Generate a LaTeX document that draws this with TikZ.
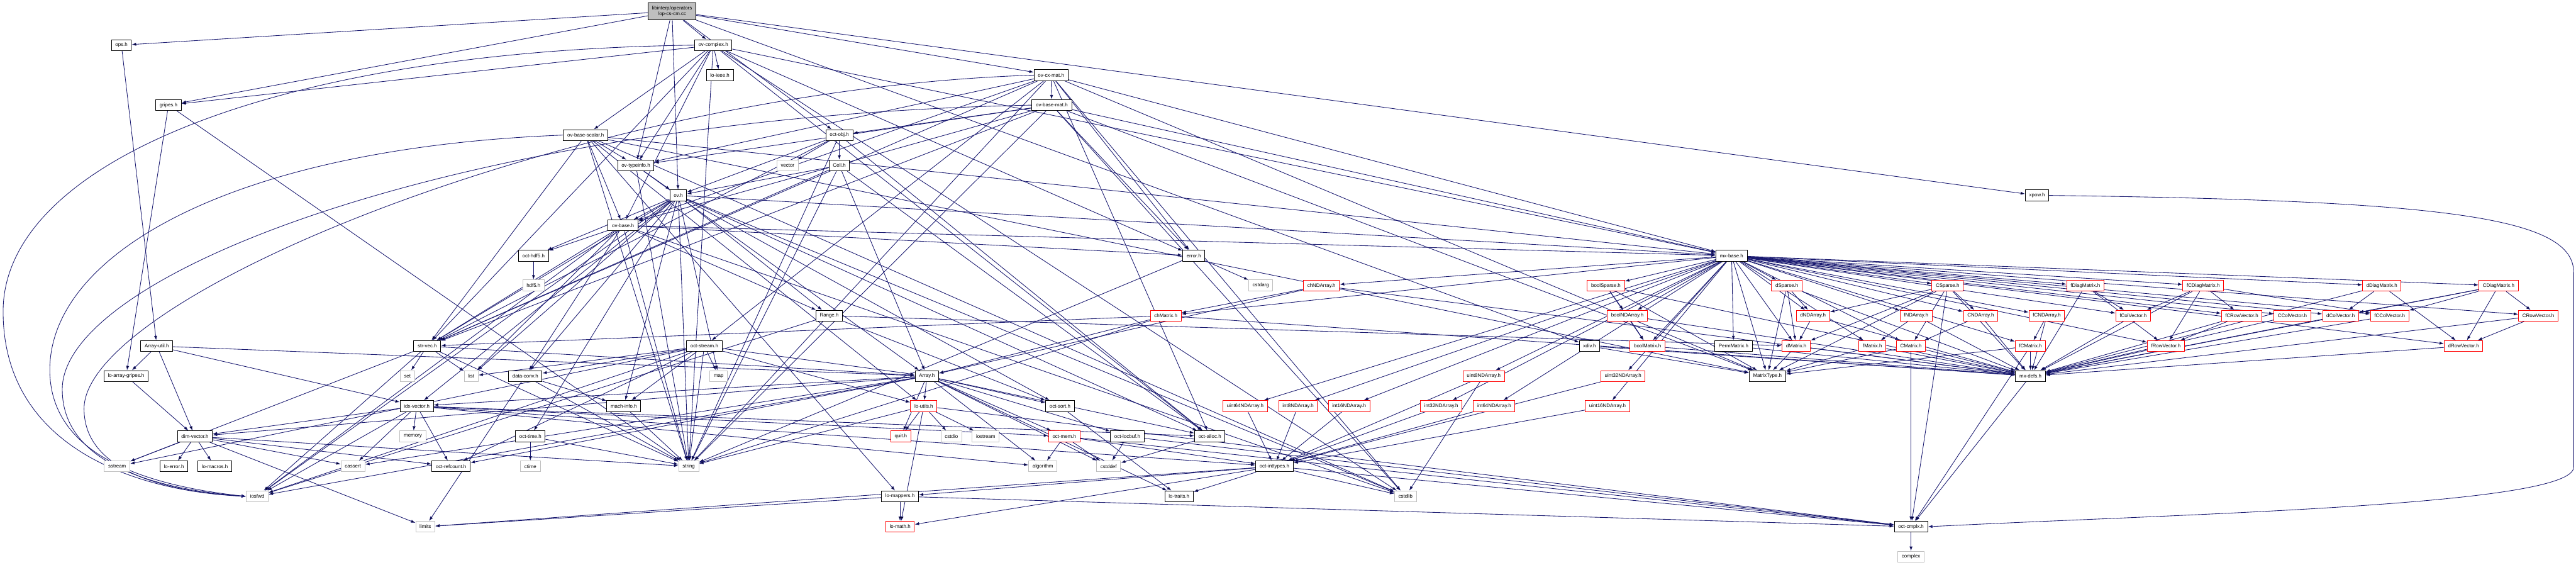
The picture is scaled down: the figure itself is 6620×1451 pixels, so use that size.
\documentclass[tikz,border=0pt]{standalone}
\usepackage{fontspec}
\setmainfont{Liberation Sans}
\usetikzlibrary{arrows.meta,backgrounds}
\definecolor{edgeblue}{HTML}{191970}
\definecolor{sysgray}{HTML}{BFBFBF}
\newcommand{\hdrfont}{\fontsize{7.3}{8.6}\selectfont}
\tikzset{
  hdr/.style={draw=black, line width=0.9pt, fill=white, font=\hdrfont,
    inner xsep=0.2cm, inner ysep=0pt, minimum height=0.56cm},
  syshdr/.style={hdr, draw=sysgray},
  trunc/.style={hdr, draw=red},
  rootfile/.style={hdr, fill=sysgray, align=center, minimum height=0.9cm},
  inc/.style={draw=edgeblue, line width=0.8pt, -{Latex[length=6.5pt,width=4.6pt]}}
}
\begin{document}
\begin{tikzpicture}[x=0.02cm,y=-0.02cm]
  \useasboundingbox (0,0) rectangle (6620,1451);
  %
  \node[rootfile] (root) at (1727,29) {libinterp/operators\\/op-cs-cm.cc};
  \node[hdr] (opsh) at (312,116) {ops.h};
  \node[hdr] (ovcomplex) at (1833,116) {ov-complex.h};
  \node[hdr] (loieee) at (1850,193) {lo-ieee.h};
  \node[hdr] (ovcxmat) at (2701,193) {ov-cx-mat.h};
  \node[hdr] (gripesh) at (433,270) {gripes.h};
  \node[hdr] (ovbasemat) at (2703,270) {ov-base-mat.h};
  \node[hdr] (ovbasescalar) at (1505,347) {ov-base-scalar.h};
  \node[hdr] (octobj) at (2157,347) {oct-obj.h};
  \node[hdr] (ovtypeinfo) at (1634,425) {ov-typeinfo.h};
  \node[syshdr] (vectorh) at (2024,425) {vector};
  \node[hdr] (cellh) at (2157,425) {Cell.h};
  \node[hdr] (ovh) at (1743,502) {ov.h};
  \node[hdr] (xpowh) at (5235,502) {xpow.h};
  \node[hdr] (ovbase) at (1601,579) {ov-base.h};
  \node[hdr] (octhdf5) at (1371,657) {oct-hdf5.h};
  \node[hdr] (errorh) at (3068,657) {error.h};
  \node[hdr] (mxbase) at (4450,657) {mx-base.h};
  %
  \node[syshdr] (hdf5) at (1371,733) {hdf5.h};
  \node[syshdr] (cstdarg) at (3240,733) {cstdarg};
  \node[trunc] (chNDArray) at (3396,734) {chNDArray.h};
  \node[trunc] (boolSparse) at (4127,734) {boolSparse.h};
  \node[trunc] (dSparse) at (4592,734) {dSparse.h};
  \node[trunc] (CSparse) at (5005,734) {CSparse.h};
  \node[trunc] (fDiagMatrix) at (5359,734) {fDiagMatrix.h};
  \node[trunc] (fCDiagMatrix) at (5662,734) {fCDiagMatrix.h};
  \node[trunc] (dDiagMatrix) at (6121,734) {dDiagMatrix.h};
  \node[trunc] (CDiagMatrix) at (6421,734) {CDiagMatrix.h};
  %
  \node[hdr] (rangeh) at (2131,811) {Range.h};
  \node[trunc] (chMatrix) at (2996,811) {chMatrix.h};
  \node[trunc] (boolNDArray) at (4182,811) {boolNDArray.h};
  \node[trunc] (dNDArray) at (4659,811) {dNDArray.h};
  \node[trunc] (fNDArray) at (4924,811) {fNDArray.h};
  \node[trunc] (CNDArray) at (5090,811) {CNDArray.h};
  \node[trunc] (fCNDArray) at (5260,811) {fCNDArray.h};
  \node[trunc] (fColVector) at (5482,811) {fColVector.h};
  \node[trunc] (fCRowVector) at (5761,811) {fCRowVector.h};
  \node[trunc] (CColVector) at (5891,811) {CColVector.h};
  \node[trunc] (dColVector) at (6015,811) {dColVector.h};
  \node[trunc] (fCColVector) at (6141,811) {fCColVector.h};
  \node[trunc] (CRowVector) at (6523,811) {CRowVector.h};
  %
  \node[hdr] (arrayutil) at (403,889) {Array-util.h};
  \node[hdr] (strvec) at (1098,889) {str-vec.h};
  \node[hdr] (octstream) at (1810,889) {oct-stream.h};
  \node[hdr] (xdivh) at (4085,889) {xdiv.h};
  \node[trunc] (boolMatrix) at (4234,889) {boolMatrix.h};
  \node[hdr] (PermMatrix) at (4455,889) {PermMatrix.h};
  \node[trunc] (dMatrix) at (4616,889) {dMatrix.h};
  \node[trunc] (fMatrix) at (4812,889) {fMatrix.h};
  \node[trunc] (CMatrix) at (4911,889) {CMatrix.h};
  \node[trunc] (fCMatrix) at (5218,889) {fCMatrix.h};
  \node[trunc] (fRowVector) at (5566,889) {fRowVector.h};
  \node[trunc] (dRowVector) at (6331,889) {dRowVector.h};
  %
  \node[hdr] (loarraygripes) at (324,966) {lo-array-gripes.h};
  \node[syshdr] (seth) at (1047,966) {set};
  \node[syshdr] (listh) at (1211,966) {list};
  \node[hdr] (dataconv) at (1350,966) {data-conv.h};
  \node[syshdr] (maph) at (1847,966) {map};
  \node[hdr] (arrayh) at (2382,966) {Array.h};
  \node[trunc] (uint8NDArray) at (3813,966) {uint8NDArray.h};
  \node[trunc] (uint32NDArray) at (4171,966) {uint32NDArray.h};
  \node[hdr] (MatrixType) at (4542,966) {MatrixType.h};
  \node[hdr] (mxdefs) at (5218,966) {mx-defs.h};
  %
  \node[hdr] (idxvector) at (1071,1043) {idx-vector.h};
  \node[hdr] (machinfo) at (1603,1043) {mach-info.h};
  \node[trunc] (loutils) at (2374,1043) {lo-utils.h};
  \node[hdr] (octsort) at (2724,1043) {oct-sort.h};
  \node[trunc] (uint64NDArray) at (3200,1043) {uint64NDArray.h};
  \node[trunc] (int8NDArray) at (3336,1043) {int8NDArray.h};
  \node[trunc] (int16NDArray) at (3467,1043) {int16NDArray.h};
  \node[trunc] (int32NDArray) at (3704,1043) {int32NDArray.h};
  \node[trunc] (int64NDArray) at (3840,1043) {int64NDArray.h};
  \node[trunc] (uint16NDArray) at (4131,1043) {uint16NDArray.h};
  %
  \node[hdr] (dimvector) at (501,1121) {dim-vector.h};
  \node[syshdr] (memoryh) at (1061,1121) {memory};
  \node[hdr] (octtime) at (1363,1121) {oct-time.h};
  \node[trunc] (quith) at (2315,1121) {quit.h};
  \node[syshdr] (cstdio) at (2445,1121) {cstdio};
  \node[syshdr] (iostream) at (2533,1121) {iostream};
  \node[trunc] (octmem) at (2735,1121) {oct-mem.h};
  \node[hdr] (octlocbuf) at (2897,1121) {oct-locbuf.h};
  \node[hdr] (octalloc) at (3109,1121) {oct-alloc.h};
  %
  \node[syshdr] (sstream) at (301,1198) {sstream};
  \node[hdr] (loerror) at (447,1198) {lo-error.h};
  \node[hdr] (lomacros) at (552,1198) {lo-macros.h};
  \node[syshdr] (cassert) at (907,1198) {cassert};
  \node[hdr] (octrefcount) at (1159,1198) {oct-refcount.h};
  \node[syshdr] (ctime) at (1363,1198) {ctime};
  \node[syshdr] (stringh) at (1770,1198) {string};
  \node[syshdr] (algorithm) at (2680,1198) {algorithm};
  \node[syshdr] (cstddef) at (2849,1198) {cstddef};
  \node[hdr] (octinttypes) at (3275,1198) {oct-inttypes.h};
  %
  \node[syshdr] (iosfwd) at (661,1275) {iosfwd};
  \node[hdr] (lomappers) at (2313,1275) {lo-mappers.h};
  \node[hdr] (lotraits) at (3030,1275) {lo-traits.h};
  \node[syshdr] (cstdlib) at (3612,1275) {cstdlib};
  \node[syshdr] (limits) at (1093,1353) {limits};
  \node[trunc] (lomath) at (2313,1353) {lo-math.h};
  \node[hdr] (octcmplx) at (4911,1353) {oct-cmplx.h};
  \node[syshdr] (complex) at (4911,1430) {complex};
  %
  \begin{pgfonlayer}{background}
  \draw[inc] (root) edge (opsh) edge (gripesh) edge (ovcomplex) edge (ovcxmat) edge (octobj)
    edge (ovtypeinfo) edge (ovh) edge (xdivh) edge (xpowh);
  \draw[inc] (opsh) edge (arrayutil);
  \draw[inc] (gripesh) edge (loarraygripes) edge (stringh);
  \draw[inc] (ovcomplex) edge (gripesh) edge (loieee) edge (ovbasescalar) edge (ovtypeinfo) edge (ovbase)
    edge (mxbase) edge (octalloc) edge (strvec) edge (errorh) edge (cstdlib) edge (stringh);
  \draw[inc] (ovcxmat) edge (ovbasemat) edge (ovbase) edge (ovtypeinfo) edge (mxbase) edge (octalloc)
    edge (strvec) edge (errorh) edge (octstream) edge (MatrixType) edge (cstdlib) edge (stringh);
  \draw[inc] (ovbasemat) edge (octobj) edge (ovbase) edge (ovtypeinfo) edge (mxbase) edge (strvec)
    edge (MatrixType) edge (errorh) edge (cstdlib) edge (stringh);
  \draw[inc] (ovbasescalar) edge (ovbase) edge (ovtypeinfo) edge (mxbase) edge (strvec) edge (MatrixType)
    edge (lomappers) edge (loutils) edge (cstdlib) edge (stringh);
  \draw[inc] (octobj) edge (vectorh) edge (cellh) edge (ovh) edge (octalloc) edge (strvec) edge (stringh);
  \draw[inc] (cellh) edge (ovh) edge (arrayh) edge (octalloc) edge (strvec) edge (stringh);
  \draw[inc] (ovtypeinfo) edge (ovh) edge (arrayh) edge (stringh);
  \draw[inc] (ovh) edge (ovbase) edge (rangeh) edge (dataconv) edge (idxvector) edge (machinfo) edge (mxbase)
    edge (octalloc) edge (octtime) edge (strvec) edge (octhdf5) edge (octsort) edge (listh) edge (maph)
    edge (cstdlib) edge (iosfwd) edge (stringh);
  \draw[inc] (ovbase) edge (octhdf5) edge (rangeh) edge (dataconv) edge (mxbase) edge (strvec) edge (errorh)
    edge (listh) edge (cstdlib) edge (iosfwd) edge (stringh);
  \draw[inc] (octhdf5) edge (hdf5);
  \draw[inc] (errorh) edge (cstdarg) edge (stringh);
  \draw[inc] (xdivh) edge (MatrixType) edge (mxdefs);
  \draw[inc] (rangeh) edge (dMatrix) edge (octsort) edge (iosfwd);
  % long routes round the left and right sides
  \draw[inc] (ovcomplex.west) .. controls (700,130) and (8,420) .. (8,800)
    .. controls (8,1150) and (350,1262) .. (iosfwd.west);
  \draw[inc] (ovbasescalar.west) .. controls (600,380) and (128,650) .. (128,950)
    .. controls (128,1180) and (400,1250) .. (iosfwd.west);
  \draw[inc] (ovbasemat.west) .. controls (1200,300) and (160,700) .. (160,1000)
    .. controls (160,1200) and (420,1258) .. (iosfwd.west);
  \draw[inc] (ovcxmat.west) .. controls (1500,230) and (216,760) .. (216,1050)
    .. controls (216,1220) and (450,1264) .. (iosfwd.west);
  \draw[inc] (xpowh.east) .. controls (6300,515) and (6614,560) .. (6614,700)
    -- (6614,1200) .. controls (6614,1300) and (5600,1320) .. (octcmplx.east);
  %
  \draw[inc] (mxbase) edge (MatrixType) edge (boolMatrix) edge (chMatrix) edge (dMatrix) edge (CMatrix)
    edge (fMatrix) edge (fCMatrix) edge (dColVector) edge (CColVector) edge (fColVector) edge (fCColVector)
    edge (dRowVector) edge (CRowVector) edge (fRowVector) edge (fCRowVector) edge (dDiagMatrix)
    edge (CDiagMatrix) edge (fDiagMatrix) edge (fCDiagMatrix) edge (PermMatrix) edge (boolSparse)
    edge (dSparse) edge (CSparse) edge (boolNDArray) edge (chNDArray) edge (dNDArray) edge (CNDArray)
    edge (fNDArray) edge (fCNDArray) edge (int8NDArray) edge (int16NDArray) edge (int32NDArray)
    edge (int64NDArray) edge (uint8NDArray) edge (uint16NDArray) edge (uint32NDArray) edge (uint64NDArray);
  \draw[inc] (chNDArray) edge (chMatrix) edge (arrayh) edge (mxdefs);
  \draw[inc] (chMatrix) edge (arrayh) edge (strvec) edge (mxdefs) edge (stringh);
  \draw[inc] (boolSparse) edge (boolMatrix) edge (boolNDArray) edge (MatrixType) edge (mxdefs);
  \draw[inc] (dSparse) edge (dNDArray) edge (dMatrix) edge (MatrixType) edge (mxdefs);
  \draw[inc] (CSparse) edge (dNDArray) edge (CNDArray) edge (dMatrix) edge (CMatrix) edge (MatrixType)
    edge (mxdefs) edge (octcmplx);
  \draw[inc] (fDiagMatrix) edge (fColVector) edge (fRowVector) edge (mxdefs);
  \draw[inc] (fCDiagMatrix) edge (fColVector) edge (fRowVector) edge (fCRowVector) edge (fCColVector) edge (mxdefs);
  \draw[inc] (dDiagMatrix) edge (dColVector) edge (dRowVector) edge (mxdefs);
  \draw[inc] (CDiagMatrix) edge (dColVector) edge (fCColVector) edge (CRowVector) edge (dRowVector) edge (mxdefs);
  \draw[inc] (boolNDArray) edge (boolMatrix) edge (mxdefs);
  \draw[inc] (boolMatrix) edge (mxdefs);
  \draw[inc] (dNDArray) edge (dMatrix) edge (mxdefs);
  \draw[inc] (fNDArray) edge (fMatrix) edge (mxdefs);
  \draw[inc] (CNDArray) edge (CMatrix) edge (mxdefs);
  \draw[inc] (fCNDArray) edge (fCMatrix) edge (mxdefs);
  \draw[inc] (dMatrix) edge (MatrixType) edge (mxdefs);
  \draw[inc] (fMatrix) edge (MatrixType) edge (mxdefs);
  \draw[inc] (CMatrix) edge (MatrixType) edge (mxdefs) edge (octcmplx);
  \draw[inc] (fCMatrix) edge (MatrixType) edge (mxdefs) edge (octcmplx);
  \draw[inc] (PermMatrix) edge (mxdefs);
  \draw[inc] (fCRowVector) edge (fRowVector) edge (mxdefs);
  \draw[inc] (CRowVector) edge (dRowVector) edge (mxdefs);
  \draw[inc] (fColVector) edge (mxdefs);
  \draw[inc] (CColVector) edge (mxdefs);
  \draw[inc] (dColVector) edge (mxdefs);
  \draw[inc] (fCColVector) edge (mxdefs);
  \draw[inc] (fRowVector) edge (mxdefs);
  \draw[inc] (dRowVector) edge (mxdefs);
  \draw[inc] (mxdefs) edge (octcmplx);
  \draw[inc] (octcmplx) edge (complex);
  \draw[inc] (int8NDArray) edge (octinttypes);
  \draw[inc] (int16NDArray) edge (octinttypes);
  \draw[inc] (int32NDArray) edge (octinttypes);
  \draw[inc] (int64NDArray) edge (octinttypes);
  \draw[inc] (uint8NDArray) edge (octinttypes) edge (cstdlib);
  \draw[inc] (uint16NDArray) edge (octinttypes);
  \draw[inc] (uint32NDArray) edge (octinttypes);
  \draw[inc] (uint64NDArray) edge (octinttypes);
  %
  \draw[inc] (arrayutil) edge (loarraygripes) edge (dimvector) edge (idxvector) edge (arrayh);
  \draw[inc] (loarraygripes) edge (dimvector);
  \draw[inc] (strvec) edge (seth) edge (listh) edge (sstream) edge (iosfwd) edge (stringh) edge (arrayh);
  \draw[inc] (octstream) edge (maph) edge (listh) edge (stringh) edge (sstream) edge (iosfwd) edge (arrayh)
    edge (dataconv) edge (machinfo) edge (octrefcount) edge (loutils);
  \draw[inc] (dataconv) edge (machinfo) edge (limits) edge (stringh);
  \draw[inc] (machinfo) edge (stringh);
  \draw[inc] (octtime) edge (ctime) edge (stringh);
  \draw[inc] (arrayh) edge (dimvector) edge (idxvector) edge (loutils) edge (quith) edge (octsort) edge (octmem)
    edge (octlocbuf) edge (octalloc) edge (algorithm) edge (cstddef) edge (lotraits) edge (cassert)
    edge (octrefcount) edge (iosfwd);
  \draw[inc] (idxvector) edge (memoryh) edge (dimvector) edge (cassert) edge (iosfwd) edge (octrefcount)
    edge (octinttypes) edge (octalloc) edge (octmem) edge (algorithm);
  \draw[inc] (dimvector) edge (sstream) edge (loerror) edge (lomacros) edge (cassert) edge (octrefcount)
    edge (limits) edge (stringh);
  \draw[inc] (loutils) edge (quith) edge (cstdio) edge (iostream) edge (stringh) edge (lomath) edge (octcmplx);
  \draw[inc] (octsort) edge (lotraits);
  \draw[inc] (octmem) edge (algorithm) edge (cstddef) edge (octinttypes) edge (octcmplx);
  \draw[inc] (octlocbuf) edge (cstddef) edge (octcmplx);
  \draw[inc] (octalloc) edge (cstddef);
  \draw[inc] (octinttypes) edge (lotraits) edge (lomappers) edge (lomath) edge (limits) edge (cstdlib) edge (octcmplx);
  \draw[inc] (lomappers) edge (lomath) edge (limits) edge (octcmplx);
  \end{pgfonlayer}
  %
\end{tikzpicture}
\end{document}
